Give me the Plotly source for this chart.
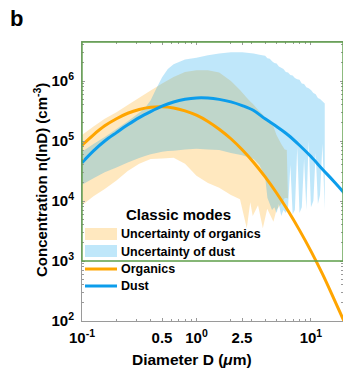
import plotly.graph_objects as go

# ---------------------------------------------------------------- data
# Fitted modal size distributions, n(lnD) in cm^-3, against diameter in um
fit_d = [0.1, 0.126, 0.158, 0.2, 0.251, 0.316, 0.398, 0.501, 0.631, 0.794,
         1.0, 1.26, 1.58, 2.0, 2.51, 3.16, 3.98, 5.01, 6.31, 7.94,
         10.0, 12.6, 15.8, 20.0]
organics = [8.5e4, 1.27e5, 1.79e5, 2.35e5, 2.90e5, 3.35e5, 3.64e5, 3.71e5, 3.55e5, 3.18e5,
            2.69e5, 2.12e5, 1.57e5, 1.09e5, 7.14e4, 4.38e4, 2.52e4, 1.36e4, 6.87e3, 3.27e3,
            1.46e3, 610, 239, 88]
dust = [4.35e4, 6.85e4, 1.0e5, 1.38e5, 1.86e5, 2.45e5, 3.09e5, 3.80e5, 4.47e5, 4.95e5,
        5.22e5, 5.20e5, 4.94e5, 4.49e5, 3.89e5, 3.22e5, 2.34e5, 1.74e5, 1.26e5, 8.5e4,
        5.5e4, 3.39e4, 2.14e4, 1.29e4]

# Uncertainty envelope of the organics mode
org_band_d = [0.1, 0.126, 0.158, 0.2, 0.251, 0.316, 0.398, 0.501, 0.631, 0.794,
              1.0, 1.26, 1.58, 2.0, 2.4, 2.75, 2.95, 3.1, 3.45, 3.8,
              4.15, 4.7, 5.0, 5.5, 5.9, 6.15, 6.3]
org_band_hi = [1.26e5, 1.74e5, 2.34e5, 3.02e5, 3.98e5, 5.25e5, 6.92e5, 9.12e5, 1.17e6, 1.41e6,
               1.51e6, 1.51e6, 1.38e6, 1.0e6, 7.08e5, 5.25e5, 4.57e5, 4.17e5, 3.31e5, 2.75e5,
               2.29e5, 1.74e5, 1.26e5, 8.9e4, 7.2e4, 7.1e4, 1.15e4]
org_band_lo = [8.5e3, 1.2e4, 1.58e4, 2.19e4, 3.16e4, 4.17e4, 5.0e4, 5.13e4, 5.25e4, 4.17e4,
               2.63e4, 2.0e4, 1.66e4, 1.26e4, 1.07e4, 3.5e3, 9.5e3, 5.6e3, 8.5e3, 3.5e3,
               7.4e3, 4.5e3, 7.1e3, 8.9e3, 1.12e4, 1.12e4, 1.1e4]

# Uncertainty envelope of the dust mode
dust_band_d = [0.1, 0.126, 0.158, 0.2, 0.251, 0.316, 0.355, 0.398, 0.447, 0.501,
               0.562, 0.631, 0.794, 1.0, 1.26, 1.58, 2.0, 2.51, 3.16, 3.55,
               3.98, 4.17, 4.37, 4.57, 4.79, 5.01, 5.25, 5.50, 5.75, 6.03,
               6.31, 6.61, 6.92, 7.24, 7.59, 7.94, 8.32, 8.71, 9.12, 9.55,
               10.0, 10.5, 11.0, 11.5, 12.0, 12.6, 13.2]
dust_band_hi = [6.6e4, 8.9e4, 1.17e5, 1.58e5, 2.14e5, 2.95e5, 3.55e5, 4.79e5, 7.59e5, 1.15e6,
                1.58e6, 1.91e6, 2.29e6, 2.45e6, 2.69e6, 2.88e6, 3.02e6, 3.02e6, 2.88e6, 2.75e6,
                2.63e6, 2.4e6, 2.34e6, 2.14e6, 2.0e6, 1.95e6, 1.74e6, 1.66e6, 1.58e6, 1.41e6,
                1.38e6, 1.26e6, 1.23e6, 1.12e6, 1.07e6, 1.05e6, 9.1e5, 8.9e5, 7.9e5, 7.6e5,
                7.1e5, 6.3e5, 6.0e5, 5.2e5, 5.0e5, 4.6e5, 4.2e5]
dust_band_lo = [1.86e4, 2.4e4, 3.0e4, 3.6e4, 4.4e4, 5.2e4, 5.6e4, 6.0e4, 6.3e4, 6.6e4,
                6.8e4, 6.9e4, 7.2e4, 7.4e4, 7.2e4, 7.1e4, 6.3e4, 5.8e4, 5.0e4, 4.0e4,
                2.5e4, 1.12e4, 8.9e3, 7.1e3, 7.9e3, 6.3e3, 8.9e3, 5.6e3, 7.1e3, 6.3e3,
                7.9e3, 4.0e4, 6.0e3, 7.1e3, 7.9e4, 6.3e3, 7.9e3, 5.0e4, 7.1e3, 1.0e5,
                7.9e3, 1.0e4, 6.3e4, 8.9e3, 1.26e4, 8.9e4, 7.1e3]

x_tickvals = [0.1, 0.5, 1, 2.5, 10]
x_ticktext = ["10<sup>-1</sup>", "0.5", "10<sup>0</sup>", "2.5", "10<sup>1</sup>"]
y_tickvals = [1e2, 1e3, 1e4, 1e5, 1e6]
y_ticktext = ["10<sup>2</sup>", "10<sup>3</sup>", "10<sup>4</sup>", "10<sup>5</sup>", "10<sup>6</sup>"]

legend_title = "Classic modes"
legend_labels = ["Uncertainty of organics", "Uncertainty of dust", "Organics", "Dust"]

# ---------------------------------------------------------------- style
W, H = 343, 378
L, R, T, B = 82, 0, 42, 57
X_RANGE = [-1, 1.28]
Y_RANGE = [2, 6.65]
FONT = "Liberation Sans, Arial, sans-serif"

ORANGE = "#FFA500"
BLUE = "#0C9DEB"
ORANGE_FILL = "rgba(255,165,0,0.25)"
BLUE_FILL = "rgba(0,158,235,0.25)"
AXIS_GRAY = "#9a9a9a"
BOX_GREEN = "#5e9f4a"


def px(x):
    """Pixel column -> paper x."""
    return (x - L) / (W - L - R)


def py(y):
    """Pixel row -> paper y."""
    return (H - B - y) / (H - T - B)


def minor_ticks(lo_exp, hi_exp, upper):
    vals = []
    for e in range(lo_exp, hi_exp + 1):
        for m in range(2, 10):
            v = m * 10 ** e
            if v <= upper:
                vals.append(v)
    return vals


fig = go.Figure()

# uncertainty envelopes
fig.add_trace(go.Scatter(
    x=org_band_d + org_band_d[::-1], y=org_band_hi + org_band_lo[::-1],
    fill="toself", fillcolor=ORANGE_FILL, mode="none",
    name=legend_labels[0], showlegend=False, hoverinfo="skip"))
fig.add_trace(go.Scatter(
    x=dust_band_d + dust_band_d[::-1], y=dust_band_hi + dust_band_lo[::-1],
    fill="toself", fillcolor=BLUE_FILL, mode="none",
    name=legend_labels[1], showlegend=False, hoverinfo="skip"))

# modal fits
fig.add_trace(go.Scatter(x=fit_d, y=organics, mode="lines", name=legend_labels[2],
                         line=dict(color=ORANGE, width=3, shape="spline"), showlegend=False))
fig.add_trace(go.Scatter(x=fit_d, y=dust, mode="lines", name=legend_labels[3],
                         line=dict(color=BLUE, width=3, shape="spline"), showlegend=False))

tickfont = dict(family=FONT, size=15, color="black", weight="bold")

fig.update_xaxes(
    type="log", range=X_RANGE, tickmode="array", tickvals=x_tickvals, ticktext=x_ticktext,
    ticks="inside", ticklen=3, tickcolor=AXIS_GRAY, tickfont=tickfont,
    ticklabelstandoff=3,
    showline=True, linecolor=AXIS_GRAY, linewidth=1, mirror="ticks",
    showgrid=False, zeroline=False,
    minor=dict(tickmode="array", tickvals=minor_ticks(-1, 1, 20), ticks="inside",
               ticklen=2, tickcolor=AXIS_GRAY, showgrid=False),
)
fig.update_yaxes(
    type="log", range=Y_RANGE, tickmode="array", tickvals=y_tickvals, ticktext=y_ticktext,
    ticks="inside", ticklen=3, tickcolor=AXIS_GRAY, tickfont=tickfont,
    ticklabelstandoff=4,
    showline=True, linecolor=AXIS_GRAY, linewidth=1, mirror="ticks",
    showgrid=False, zeroline=False,
    minor=dict(tickmode="array", tickvals=minor_ticks(2, 6, 4.5e6), ticks="inside",
               ticklen=2, tickcolor=AXIS_GRAY, showgrid=False),
)

shapes = []
# green frame over the upper part of the axes
y_green = (3 - Y_RANGE[0]) / (Y_RANGE[1] - Y_RANGE[0])
shapes.append(dict(type="rect", xref="paper", yref="paper", x0=0, x1=1, y0=y_green, y1=1,
                   line=dict(color=BOX_GREEN, width=1.4), fillcolor="rgba(0,0,0,0)",
                   layer="above"))

# legend swatches
sw_x0, sw_x1 = px(85), px(117)
shapes.append(dict(type="rect", xref="paper", yref="paper", x0=sw_x0, x1=sw_x1,
                   y0=py(240), y1=py(228), fillcolor=ORANGE_FILL, line=dict(width=0)))
shapes.append(dict(type="rect", xref="paper", yref="paper", x0=sw_x0, x1=sw_x1,
                   y0=py(257), y1=py(245), fillcolor=BLUE_FILL, line=dict(width=0)))
shapes.append(dict(type="line", xref="paper", yref="paper", x0=sw_x0, x1=sw_x1,
                   y0=py(269), y1=py(269), line=dict(color=ORANGE, width=3)))
shapes.append(dict(type="line", xref="paper", yref="paper", x0=sw_x0, x1=sw_x1,
                   y0=py(286), y1=py(286), line=dict(color=BLUE, width=3)))

annotations = []
annotations.append(dict(text=legend_title, xref="paper", yref="paper", x=px(178), y=py(214),
                        xanchor="center", yanchor="middle", showarrow=False,
                        font=dict(family=FONT, size=15, color="black", weight="bold")))
for label, yrow in zip(legend_labels, [234, 252, 269, 286]):
    annotations.append(dict(text=label, xref="paper", yref="paper", x=px(119), y=py(yrow),
                            xanchor="left", yanchor="middle", showarrow=False,
                            font=dict(family=FONT, size=12.5, color="black", weight="bold")))

# axis titles and panel letter
annotations.append(dict(text="Diameter D (<i>μ</i>m)", xref="paper", yref="paper",
                        x=px(192), y=py(359), xanchor="center", yanchor="middle",
                        showarrow=False,
                        font=dict(family=FONT, size=15.5, color="black", weight="bold")))
annotations.append(dict(text="Concentration n(lnD) (cm<sup>-3</sup>)", xref="paper",
                        yref="paper", x=px(40), y=py(180), xanchor="center",
                        yanchor="middle", textangle=-90, showarrow=False,
                        font=dict(family=FONT, size=15, color="black", weight="bold")))
annotations.append(dict(text="b", xref="paper", yref="paper", x=px(8), y=py(18),
                        xanchor="left", yanchor="middle", showarrow=False,
                        font=dict(family=FONT, size=22, color="black", weight="bold")))

fig.update_layout(
    width=W, height=H,
    margin=dict(l=L, r=R, t=T, b=B, pad=0),
    paper_bgcolor="white", plot_bgcolor="white",
    shapes=shapes, annotations=annotations,
    showlegend=False,
)

fig.write_html("out.html")
